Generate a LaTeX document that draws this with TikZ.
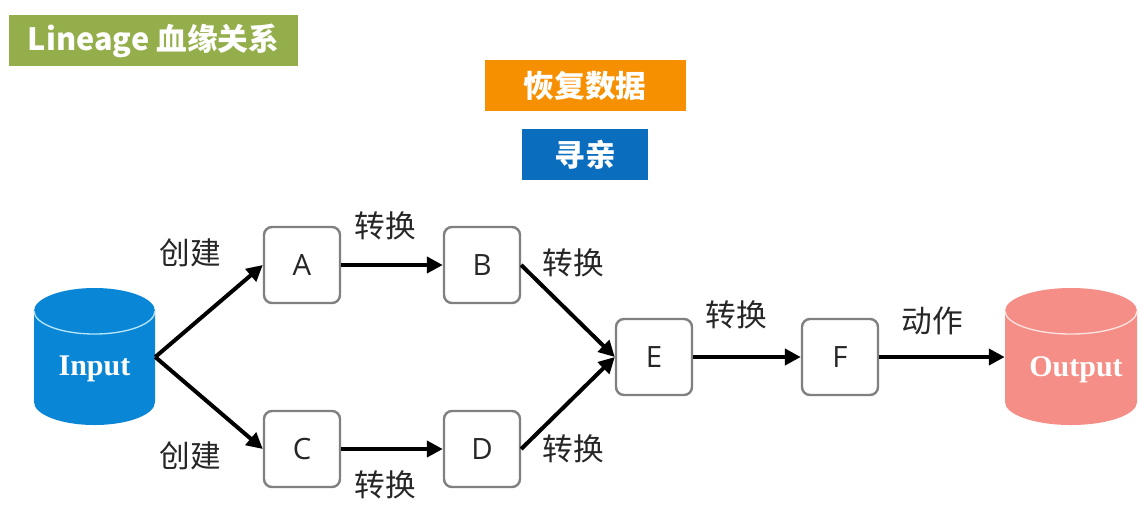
\documentclass[tikz,border=0pt]{standalone}
\usepackage{fontspec}
\setmainfont{Open Sans}
\newfontfamily\cjk{Noto Sans CJK SC}
\newfontfamily\serifb{Liberation Serif}
\usetikzlibrary{arrows.meta}
\definecolor{titlegreen}{HTML}{93AE4A}
\definecolor{orangebox}{HTML}{F79000}
\definecolor{bluebox}{HTML}{0A6DBE}
\definecolor{inblue}{HTML}{0A86D6}
\definecolor{outred}{HTML}{F58E86}
\tikzset{
  banner/.style={fill=#1,draw=none,text=white,font=\cjk\bfseries\fontsize{23}{27}\selectfont,inner sep=0pt,anchor=center},
  stagebox/.style={draw=black!50,line width=1.8pt,fill=white,rounded corners=6pt,minimum width=57pt,minimum height=57pt,inner sep=0pt,font=\fontsize{22}{26}\selectfont,text=black!85},
  flow/.style={draw=black,line width=3pt,-{Triangle[length=12pt,width=12pt]}},
  steplabel/.style={font=\cjk\fontsize{23}{27}\selectfont,text=black!85,inner sep=0pt},
  cylbody/.style={draw=none,fill=none,minimum width=#1,minimum height=102.75pt,inner sep=0pt},
  cyltext/.style={font=\serifb\bfseries\fontsize{22.5}{26}\selectfont,text=white,inner sep=0pt},
}
\begin{document}
\begin{tikzpicture}[x=0.75pt,y=-0.75pt]
\useasboundingbox (0,0) rectangle (1144,522);
\fill[white] (0,0) rectangle (1144,522);
% banners
\node[banner=titlegreen,minimum width=216.75pt,minimum height=38.25pt] (title) at (153.5,40.5) {Lineage 血缘关系};
\node[banner=orangebox,minimum width=150.75pt,minimum height=38.5pt] (restore) at (585,85.5) {恢复数据};
\node[banner=bluebox,minimum width=94.5pt,minimum height=38.5pt] (seek) at (585,154.5) {寻亲};
% input cylinder
\fill[inblue] (34,311) arc[x radius=60.5,y radius=23,start angle=180,end angle=360] -- (155,402) arc[x radius=60.5,y radius=23,start angle=0,end angle=180] -- cycle;
\draw[white!70!cyan,line width=1pt] (34,311) arc[x radius=60.5,y radius=23,start angle=180,end angle=0];
\node[cylbody=90.75pt] (input) at (94.5,357) {};
\node[cyltext] (inputtext) at (94.5,369) {Input};
% output cylinder
\fill[outred] (1005,311) arc[x radius=66,y radius=23,start angle=180,end angle=360] -- (1137,402) arc[x radius=66,y radius=23,start angle=0,end angle=180] -- cycle;
\draw[white!75!outred,line width=1pt] (1005,311) arc[x radius=66,y radius=23,start angle=180,end angle=0];
\node[cylbody=99pt] (output) at (1071,357) {};
\node[cyltext] (outputtext) at (1076,370) {Output};
% stages
\node[stagebox] (A) at (302,265) {A};
\node[stagebox] (B) at (482,265) {B};
\node[stagebox] (C) at (302,449) {C};
\node[stagebox] (D) at (482,449) {D};
\node[stagebox] (E) at (654,357) {E};
\node[stagebox] (F) at (840,357) {F};
% connectors
\draw[flow] (input.east) -- (A.west);
\draw[flow] (input.east) -- (C.west);
\draw[flow] (A.east) -- (B.west);
\draw[flow] (C.east) -- (D.west);
\draw[flow] (B.east) -- (E.west);
\draw[flow] (D.east) -- (E.west);
\draw[flow] (E.east) -- (F.west);
\draw[flow] (F.east) -- (output.west);
% labels
\node[steplabel] (l1) at (190,253) {创建};
\node[steplabel] (l2) at (190,456) {创建};
\node[steplabel] (l3) at (385,226) {转换};
\node[steplabel] (l4) at (385,485) {转换};
\node[steplabel] (l5) at (573,263) {转换};
\node[steplabel] (l6) at (573,449) {转换};
\node[steplabel] (l7) at (736,315) {转换};
\node[steplabel] (l8) at (932,321) {动作};
\end{tikzpicture}
\end{document}
